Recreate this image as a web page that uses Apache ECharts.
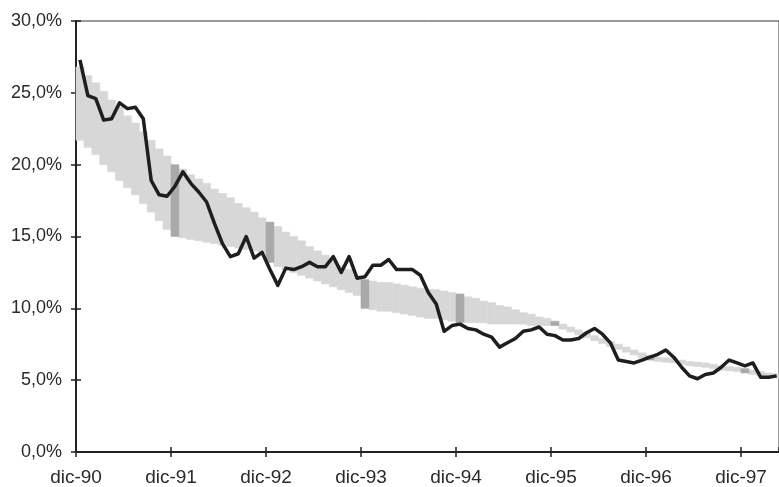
<!DOCTYPE html>
<html><head><meta charset="utf-8">
<script src="https://cdn.jsdelivr.net/npm/echarts/dist/echarts.min.js"></script>
<style>html,body{margin:0;padding:0;background:#fff}#c{width:779px;height:487px}</style>
</head><body><div id="c"></div>
<script>
// X tick labels (one per December)
const xTickLabels = ['dic-90','dic-91','dic-92','dic-93','dic-94','dic-95','dic-96','dic-97'];
// Y tick labels
const yTickLabels = ['0,0%','5,0%','10,0%','15,0%','20,0%','25,0%','30,0%'];

// Monthly 12-month inflation (%), from dic-90 onward
const inflation = [
  27.3, 24.8, 24.6, 23.1, 23.2, 24.3, 23.9, 24.0, 23.2, 18.9, 17.9, 17.8,
  18.5, 19.5, 18.7, 18.1, 17.4, 15.9, 14.5, 13.6, 13.8, 15.0, 13.5, 13.9,
  12.7, 11.6, 12.8, 12.7, 12.9, 13.2, 12.9, 12.9, 13.6, 12.5, 13.6, 12.1,
  12.2, 13.0, 13.0, 13.4, 12.7, 12.7, 12.7, 12.3, 11.1, 10.3, 8.4, 8.8,
  8.9, 8.6, 8.5, 8.2, 8.0, 7.3, 7.6, 7.9, 8.4, 8.5, 8.7, 8.2,
  8.1, 7.8, 7.8, 7.9, 8.3, 8.6, 8.2, 7.6, 6.4, 6.3, 6.2, 6.4,
  6.6, 6.8, 7.1, 6.6, 5.9, 5.3, 5.1, 5.4, 5.5, 5.9, 6.4, 6.2,
  6.0, 6.2, 5.2, 5.2, 5.3
];

// Target corridor, monthly lower and upper bounds (%)
const bandLow = [
  21.7, 21.2, 20.7, 20.0, 19.5, 18.9, 18.4, 17.9, 17.3, 16.7, 16.1, 15.5,
  15.0, 14.9, 14.8, 14.7, 14.6, 14.5, 14.4, 14.3, 14.2, 14.1, 14.0, 13.9,
  13.2, 12.9, 12.7, 12.5, 12.3, 12.1, 11.9, 11.7, 11.5, 11.3, 11.1, 10.9,
  10.0, 9.9, 9.8, 9.8, 9.7, 9.6, 9.5, 9.4, 9.3, 9.3, 9.2, 9.1,
  9.0, 9.0, 9.0, 9.0, 8.9, 8.9, 8.9, 8.9, 8.9, 8.8, 8.8, 8.8,
  8.8, 8.55, 8.35, 8.15, 7.95, 7.75, 7.55, 7.35, 7.15, 6.95, 6.75, 6.55,
  6.4, 6.3, 6.25, 6.2, 6.1, 6.0, 5.95, 5.9, 5.8, 5.7, 5.65, 5.6,
  5.5, 5.4, 5.3, 5.2, 5.15
];
const bandHigh = [
  26.8, 26.2, 25.7, 25.1, 24.5, 24.0, 23.4, 22.9, 22.3, 21.7, 21.1, 20.6,
  20.0, 19.7, 19.3, 19.0, 18.7, 18.3, 18.0, 17.7, 17.3, 17.0, 16.7, 16.3,
  16.0, 15.7, 15.3, 15.0, 14.7, 14.3, 14.0, 13.7, 13.3, 13.0, 12.7, 12.3,
  12.0, 11.9, 11.8, 11.8, 11.7, 11.6, 11.5, 11.4, 11.3, 11.3, 11.2, 11.1,
  11.0, 10.8, 10.7, 10.5, 10.4, 10.2, 10.1, 9.9, 9.7, 9.6, 9.4, 9.3,
  9.1, 8.9, 8.7, 8.5, 8.3, 8.1, 7.9, 7.7, 7.5, 7.3, 7.1, 6.9,
  6.7, 6.6, 6.55, 6.5, 6.4, 6.3, 6.25, 6.2, 6.1, 6.0, 5.95, 5.9,
  5.8, 5.7, 5.6, 5.5, 5.45
];
// Months (index from dic-90) that carry the year-end target
const yearEndMonths = [12, 24, 36, 48, 60, 72, 84];

const X_MAX = 88.8;
const FONT = 'Liberation Sans, Arial, sans-serif';
const AX = '#222';

const bandData = bandLow.map((lo, i) => [i, lo, bandHigh[i], yearEndMonths.includes(i) ? 1 : 0]);
const lineData = inflation.map((v, i) => [i + 0.5, v]);

const chart = echarts.init(document.getElementById('c'), null, {renderer: 'canvas'});
chart.setOption({
  animation: false,
  backgroundColor: '#fff',
  grid: {left: 76, right: 0, top: 21, bottom: 35, show: true, borderColor: '#333', borderWidth: 1},
  xAxis: [{
    type: 'value', min: 0, max: X_MAX, interval: 12,
    axisLine: {show: true, lineStyle: {color: AX, width: 2}},
    axisTick: {show: true, inside: false, length: 5, lineStyle: {color: AX, width: 1.5}},
    axisLabel: {formatter: v => (v % 12 === 0 && xTickLabels[v / 12]) ? xTickLabels[v / 12] : '',
      fontSize: 19, color: '#2a2a2a', fontFamily: FONT, margin: 16, showMaxLabel: false},
    splitLine: {show: false}
  }, {
    type: 'value', min: 0, max: X_MAX, interval: 12, position: 'bottom',
    axisLine: {show: false},
    axisTick: {show: true, inside: true, length: 5, lineStyle: {color: AX, width: 1.5}},
    axisLabel: {show: false}, splitLine: {show: false}
  }],
  yAxis: [{
    type: 'value', min: 0, max: 30, interval: 5,
    axisLine: {show: true, lineStyle: {color: AX, width: 2}},
    axisTick: {show: true, inside: false, length: 5, lineStyle: {color: AX, width: 1.5}},
    axisLabel: {formatter: v => yTickLabels[v / 5] || '', fontSize: 18, color: '#2a2a2a', fontFamily: FONT, margin: 14},
    splitLine: {show: false}
  }, {
    type: 'value', min: 0, max: 30, interval: 5, position: 'left',
    axisLine: {show: false},
    axisTick: {show: true, inside: true, length: 5, lineStyle: {color: AX, width: 1.5}},
    axisLabel: {show: false}, splitLine: {show: false}
  }],
  series: [{
    type: 'custom',
    xAxisIndex: 0, yAxisIndex: 0,
    data: bandData,
    encode: {x: 0, y: [1, 2]},
    renderItem: (params, api) => {
      const i = api.value(0), lo = api.value(1), hi = api.value(2), dark = api.value(3);
      const p1 = api.coord([i, hi]);
      const p2 = api.coord([i + 1, lo]);
      const col = dark ? '#a9a9a9' : '#d7d7d7';
      return {
        type: 'rect',
        z2: dark ? 2 : 1,
        shape: {x: p1[0], y: p1[1], width: p2[0] - p1[0], height: p2[1] - p1[1]},
        style: {fill: col, stroke: col, lineWidth: 0.6}
      };
    },
    z: 1
  }, {
    type: 'line',
    xAxisIndex: 0, yAxisIndex: 0,
    data: lineData,
    showSymbol: false,
    symbol: 'none',
    lineStyle: {color: '#1e1e1e', width: 3.5, join: 'round'},
    z: 5
  }]
});
</script>
</body></html>
